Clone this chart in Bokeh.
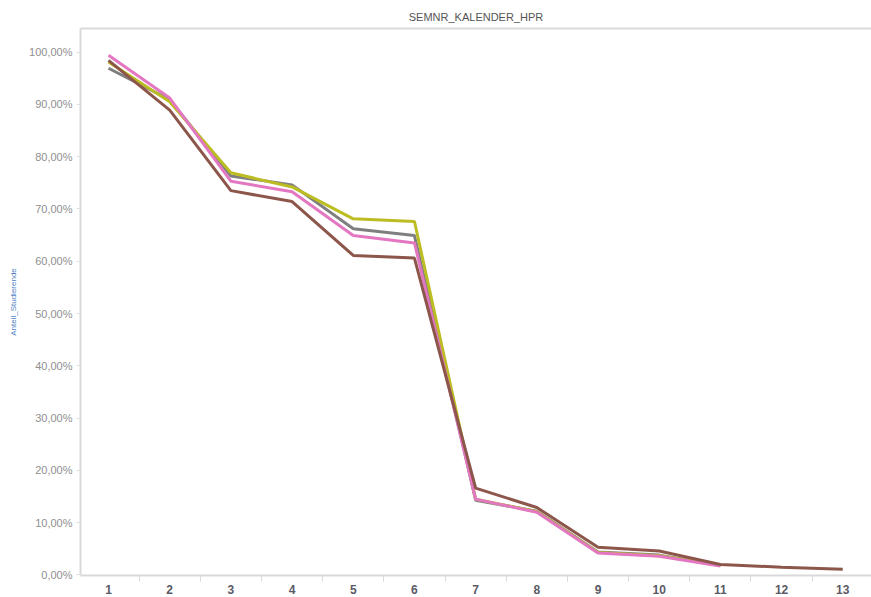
from bokeh.plotting import figure
from bokeh.models import FixedTicker, LinearAxis, Range1d
from bokeh.embed import file_html
from bokeh.resources import INLINE

# ---- data ----
semesters = list(range(1, 14))
tick_values = [0, 10, 20, 30, 40, 50, 60, 70, 80, 90, 100]
tick_labels = ["0,00%", "10,00%", "20,00%", "30,00%", "40,00%", "50,00%",
               "60,00%", "70,00%", "80,00%", "90,00%", "100,00%"]
series_gray = [96.9, 90.9, 76.3, 74.6, 66.2, 64.9, 14.3, 12.2, 4.4, 3.8, 1.8]
series_olive = [98.1, 90.5, 76.9, 74.2, 68.1, 67.6, 14.5, 12.1, 4.3, 3.7, 1.8]
series_pink = [99.4, 91.2, 75.3, 73.3, 64.9, 63.5, 14.5, 12.0, 4.2, 3.6, 1.7]
series_brown = [98.4, 88.9, 73.5, 71.4, 61.1, 60.6, 16.6, 12.9, 5.3, 4.6, 2.0, 1.5, 1.1]

FONT = "Liberation Sans"
AXIS_COL = "#d9d9d9"

p = figure(width=871, height=597, output_backend="svg", toolbar_location=None,
           x_range=Range1d(0.542, 13.47), y_range=Range1d(-0.1, 104.5),
           min_border_left=80, min_border_right=0, min_border_top=28, min_border_bottom=22,
           title="SEMNR_KALENDER_HPR")
p.title.align = "center"
p.title.text_font = FONT
p.title.text_font_size = "11px"
p.title.text_font_style = "normal"
p.title.text_color = "#555555"
p.title.standoff = 12

p.outline_line_color = None
p.xgrid.grid_line_color = None
p.ygrid.grid_line_color = None
p.background_fill_color = "white"
p.border_fill_color = "white"

# x axis
xa = p.xaxis[0]
xa.ticker = FixedTicker(ticks=semesters, minor_ticks=[s + 0.5 for s in semesters])
xa.axis_line_color = AXIS_COL
xa.axis_line_width = 2
xa.major_tick_line_color = None
xa.major_tick_out = 0
xa.major_tick_in = 0
xa.minor_tick_line_color = AXIS_COL
xa.minor_tick_out = 6
xa.minor_tick_in = 0
xa.major_label_standoff = 3
xa.major_label_text_font = FONT
xa.major_label_text_font_size = "12px"
xa.major_label_text_font_style = "bold"
xa.major_label_text_color = "#5a5a66"

# y axis
ya = p.yaxis[0]
ya.ticker = FixedTicker(ticks=tick_values, minor_ticks=[])
ya.major_label_overrides = {v: l for v, l in zip(tick_values, tick_labels)}
ya.axis_line_color = AXIS_COL
ya.axis_line_width = 2
ya.major_tick_line_color = "#e0e0e0"
ya.major_tick_out = 4
ya.major_tick_in = 0
ya.minor_tick_line_color = None
ya.major_label_standoff = 4
ya.major_label_text_font = FONT
ya.major_label_text_font_size = "11px"
ya.major_label_text_color = "#8f8f8f"
ya.axis_label = "Anteil_Studierende"
ya.axis_label_text_font = FONT
ya.axis_label_text_font_size = "8px"
ya.axis_label_text_font_style = "normal"
ya.axis_label_text_color = "#4f7fbf"
ya.axis_label_standoff = 8

# top frame line
top = LinearAxis(ticker=FixedTicker(ticks=[]), axis_line_color=AXIS_COL, axis_line_width=2,
                 major_tick_line_color=None, minor_tick_line_color=None,
                 major_label_text_font_size="0px", major_tick_out=0, major_tick_in=0,
                 major_label_standoff=0)
p.add_layout(top, "above")

p.line(semesters[:len(series_gray)], series_gray, line_color="#7f7f7f", line_width=3)
p.line(semesters[:len(series_olive)], series_olive, line_color="#bcbd22", line_width=3)
p.line(semesters[:len(series_pink)], series_pink, line_color="#e377c2", line_width=3)
p.line(semesters[:len(series_brown)], series_brown, line_color="#8c564b", line_width=3)

open("out.html", "w").write(file_html(p, INLINE))
